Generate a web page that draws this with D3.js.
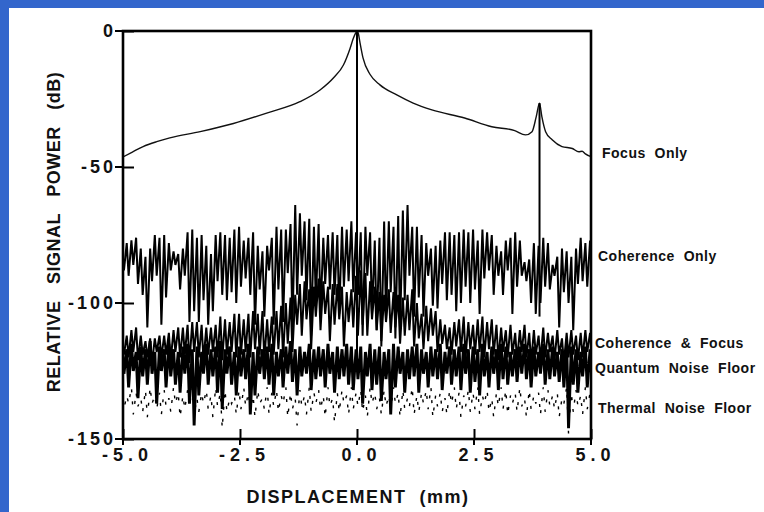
<!DOCTYPE html>
<html lang="en">
<head>
    <meta charset="UTF-8">
    <title>Relative Signal Power vs Displacement</title>
    <script src="https://d3js.org/d3.v7.min.js"></script>
    <style>
        body { margin: 0; background: #3366cc; }
        svg { display: block; }
        text {
            font-family: "Liberation Sans", Arial, Helvetica, sans-serif;
            font-weight: bold;
            fill: #111;
            white-space: pre;
        }
    </style>
</head>
<body>
<svg id="chart"></svg>
<script>
    // Axis ticks
    const xTicks = [-5, -2.5, 0, 2.5, 5];
    const yTicks = [0, -50, -100, -150];

    // Focus only (smooth curve)
    const focusX = [-5.0, -4.8, -4.57, -4.28, -4.0, -3.35, -2.64, -1.93, -1.22, -0.79, -0.5, -0.29, -0.15, -0.08, -0.03, 0,
                    0.03, 0.06, 0.13, 0.28, 0.49, 0.85, 1.2, 1.6, 2.3, 2.88, 3.37, 3.6, 3.74, 3.83, 3.9, 3.95, 4.03,
                    4.17, 4.38, 4.6, 4.74, 4.81, 4.88, 5.0];
    const focusY = [-46.3, -44.5, -42.5, -40.7, -39.3, -37, -34, -30.2, -26, -21.7, -17.2, -12.5, -6.5, -2.8, -0.8, 0,
                    -1, -3.9, -10, -16, -19.8, -23.5, -26.5, -29, -32, -35.2, -36.6, -38.2, -37, -31.5, -26.5, -31.5, -37,
                    -40, -42.5, -43.2, -44.4, -44.2, -45.2, -46.2];

    // Noisy traces: top / bottom of each 0.1 mm bin, from -5.0 to 5.0 mm (101 bins)
    const binStart = -5, binStep = 0.1;

    const coherenceHi = [
        -79, -78, -77, -76, -80, -83, -80, -75, -76, -75, -78, -81, -82, -80, -74, -73, -76, -75, -79, -82, -75, -74, -75, -76, -73, -72,
        -77, -76, -74, -79, -81, -79, -76, -72, -73, -73, -71, -64, -67, -70, -69, -72, -71, -76, -75, -74, -75, -72, -73, -70, -74,
        -74, -72, -74, -77, -76, -70, -70, -72, -68, -66, -64, -72, -72, -75, -78, -80, -79, -77, -74, -74, -75, -74, -73, -74, -73,
        -77, -73, -74, -75, -79, -81, -77, -76, -74, -77, -85, -84, -78, -79, -76, -78, -86, -83, -80, -81, -83, -80, -76, -78, -77];
    const coherenceLo = [
        -88, -90, -86, -93, -97, -109, -92, -90, -108, -98, -88, -86, -95, -90, -107, -103, -107, -99, -108, -103, -92, -97, -99, -96, -100, -94,
        -91, -97, -108, -95, -105, -88, -108, -95, -107, -89, -109, -97, -90, -99, -112, -100, -104, -93, -95, -97, -104, -94, -92, -96, -97,
        -112, -90, -104, -110, -116, -106, -96, -113, -110, -99, -90, -105, -98, -105, -90, -101, -102, -93, -99, -97, -103, -100, -94, -100, -95,
        -104, -91, -88, -97, -90, -97, -88, -104, -94, -90, -92, -100, -104, -100, -94, -95, -90, -109, -96, -100, -110, -93, -92, -94, -90];

    const cohFocusHi = [
        -113, -112, -110, -109, -112, -114, -113, -113, -112, -112, -111, -110, -109, -109, -108, -107, -107, -108, -109, -109, -108, -105, -106, -107, -104, -104,
        -106, -104, -103, -104, -103, -106, -105, -103, -101, -100, -98, -97, -93, -92, -95, -94, -91, -92, -94, -93, -93, -94, -96, -95, -90,
        -88, -89, -92, -94, -96, -97, -95, -96, -97, -98, -97, -95, -100, -104, -101, -102, -103, -106, -108, -109, -107, -106, -105, -107, -108,
        -106, -105, -107, -106, -108, -109, -110, -108, -111, -110, -108, -111, -110, -112, -109, -111, -112, -110, -113, -111, -110, -112, -111, -110, -111];
    const cohFocusLo = [
        -119, -120, -118, -121, -119, -120, -122, -118, -120, -119, -121, -118, -120, -119, -122, -118, -120, -121, -119, -118, -120, -121, -119, -118, -120, -119,
        -118, -120, -117, -119, -121, -118, -119, -117, -120, -115, -118, -108, -112, -106, -117, -105, -110, -104, -114, -108, -106, -116, -107, -109, -112,
        -108, -112, -106, -110, -114, -107, -111, -109, -115, -112, -110, -116, -113, -117, -114, -112, -118, -115, -117, -119, -116, -118, -120, -117, -119,
        -118, -120, -117, -119, -121, -118, -120, -119, -121, -118, -120, -122, -119, -121, -120, -118, -121, -119, -122, -120, -119, -121, -120, -118, -120];

    const quantumHi = [
        -116, -117, -115, -118, -116, -117, -114, -118, -116, -117, -115, -117, -118, -116, -115, -117, -116, -118, -115, -117, -116, -114, -117, -116, -118, -116,
        -117, -115, -118, -116, -117, -116, -115, -118, -117, -116, -114, -117, -116, -118, -115, -117, -116, -117, -115, -118, -116, -117, -115, -116, -117,
        -116, -118, -115, -117, -116, -118, -117, -115, -116, -118, -117, -116, -115, -117, -118, -116, -117, -115, -118, -116, -117, -116, -115, -117, -116,
        -117, -115, -118, -116, -117, -115, -116, -118, -117, -116, -115, -117, -116, -118, -115, -117, -116, -118, -117, -115, -116, -117, -118, -116, -117];
    const quantumLo = [
        -126, -131, -125, -135, -127, -130, -126, -137, -125, -131, -127, -130, -133, -126, -137, -145, -134, -126, -130, -127, -133, -139, -126, -130, -134, -127,
        -128, -141, -134, -126, -128, -130, -134, -127, -131, -126, -129, -134, -127, -126, -132, -128, -127, -131, -126, -133, -128, -127, -130, -132, -128,
        -137, -127, -132, -130, -136, -128, -141, -131, -126, -133, -128, -127, -133, -126, -131, -127, -128, -132, -126, -130, -127, -132, -126, -133, -129,
        -134, -127, -131, -126, -132, -128, -130, -127, -129, -126, -128, -131, -127, -126, -130, -128, -127, -129, -131, -146, -130, -133, -127, -131, -129];

    const thermalHi = [
        -132, -134, -131, -133, -135, -132, -131, -134, -133, -132, -135, -131, -133, -134, -132, -131, -135, -133, -132, -134, -131, -133, -132, -135, -134, -132,
        -131, -133, -134, -132, -135, -131, -133, -132, -134, -131, -133, -135, -132, -134, -131, -133, -132, -134, -131, -135, -133, -132, -134, -131, -133,
        -132, -134, -131, -133, -135, -132, -134, -131, -133, -132, -135, -131, -134, -133, -132, -131, -134, -133, -135, -132, -131, -133, -134, -132, -133,
        -131, -134, -132, -135, -133, -131, -132, -134, -133, -131, -135, -132, -134, -133, -131, -132, -134, -133, -135, -131, -133, -132, -134, -131, -133];
    const thermalLo = [
        -139, -137, -141, -138, -140, -142, -137, -139, -141, -138, -140, -137, -142, -139, -138, -141, -140, -137, -139, -142, -138, -146, -140, -137, -141, -139,
        -138, -140, -142, -137, -139, -141, -138, -140, -137, -142, -139, -145, -138, -141, -140, -137, -139, -142, -138, -144, -140, -137, -141, -139, -138,
        -140, -142, -137, -139, -141, -138, -140, -137, -142, -139, -138, -141, -140, -137, -139, -142, -138, -140, -141, -137, -139, -142, -138, -140, -139,
        -141, -137, -140, -142, -138, -139, -141, -137, -140, -138, -142, -139, -137, -141, -140, -138, -139, -142, -137, -148, -140, -138, -141, -139, -137];

    // Narrow coherence peaks drawn as vertical lines
    const spikeX = [0, 3.9];
    const spikeTop = [0, -26.5];
    const spikeBottom = [-122, -105];

    // Trace labels on the right
    const traceLabels = ["Focus  Only", "Coherence  Only", "Coherence  &  Focus", "Quantum  Noise  Floor", "Thermal  Noise  Floor"];
    const traceLabelDb = [-44.9, -82.7, -114.7, -123.9, -138.6];

    // Layout
    const width = 764;
    const height = 512;
    const plot = { left: 123, right: 591, top: 31, bottom: 439 };

    const svg = d3.select("#chart")
        .attr("width", width)
        .attr("height", height);

    svg.append("rect")
        .attr("width", width)
        .attr("height", height)
        .attr("fill", "#3366cc");

    svg.append("rect")
        .attr("x", 9)
        .attr("y", 8)
        .attr("width", width - 9)
        .attr("height", height - 8)
        .attr("fill", "#ffffff");

    const x = d3.scaleLinear().domain([-5, 5]).range([plot.left, plot.right]);
    const y = d3.scaleLinear().domain([-150, 0]).range([plot.bottom, plot.top]);

    svg.append("clipPath")
        .attr("id", "plot-clip")
        .append("rect")
        .attr("x", plot.left)
        .attr("y", plot.top)
        .attr("width", plot.right - plot.left)
        .attr("height", plot.bottom - plot.top);

    const traces = svg.append("g").attr("clip-path", "url(#plot-clip)");

    // Zig-zag between the top and bottom of every bin
    function zigzag(hi, lo) {
        const pts = [];
        hi.forEach((h, i) => {
            const xi = binStart + i * binStep;
            pts.push([xi - 0.02, h]);
            pts.push([xi + 0.02, lo[i]]);
        });
        return pts;
    }

    const line = d3.line()
        .x(d => x(d[0]))
        .y(d => y(d[1]));

    traces.append("path")
        .attr("d", line(zigzag(thermalHi, thermalLo)))
        .attr("fill", "none")
        .attr("stroke", "#000")
        .attr("stroke-width", 1.4)
        .attr("stroke-dasharray", "3,9");

    traces.append("path")
        .attr("d", line(zigzag(quantumHi, quantumLo)))
        .attr("fill", "none")
        .attr("stroke", "#000")
        .attr("stroke-width", 2.9);

    traces.append("path")
        .attr("d", line(zigzag(cohFocusHi, cohFocusLo)))
        .attr("fill", "none")
        .attr("stroke", "#000")
        .attr("stroke-width", 2);

    traces.append("path")
        .attr("d", line(zigzag(coherenceHi, coherenceLo)))
        .attr("fill", "none")
        .attr("stroke", "#000")
        .attr("stroke-width", 2);

    traces.append("path")
        .datum(focusX.map((v, i) => [v, focusY[i]]))
        .attr("d", d3.line().x(d => x(d[0])).y(d => y(d[1])).curve(d3.curveMonotoneX))
        .attr("fill", "none")
        .attr("stroke", "#111")
        .attr("stroke-width", 1.4);

    traces.selectAll(".spike")
        .data(spikeX)
        .enter()
        .append("line")
        .attr("class", "spike")
        .attr("x1", d => x(d))
        .attr("x2", d => x(d))
        .attr("y1", (d, i) => y(spikeTop[i]))
        .attr("y2", (d, i) => y(spikeBottom[i]))
        .attr("stroke", "#000")
        .attr("stroke-width", 2);

    // Frame
    svg.append("rect")
        .attr("x", x(-5))
        .attr("y", y(0))
        .attr("width", x(5) - x(-5))
        .attr("height", y(-150) - y(0))
        .attr("fill", "none")
        .attr("stroke", "#000")
        .attr("stroke-width", 2.6);

    // Y axis
    const yLs = 3;
    const yAxisG = svg.append("g")
        .attr("transform", `translate(${plot.left},0)`)
        .call(d3.axisLeft(y)
            .tickValues(yTicks)
            .tickSizeInner(-11)
            .tickSizeOuter(0)
            .tickPadding(10)
            .tickFormat(d => String(d)));
    yAxisG.select(".domain").remove();
    yAxisG.selectAll(".tick line").attr("stroke", "#000").attr("stroke-width", 2);
    yAxisG.selectAll(".tick text")
        .attr("fill", "#111")
        .attr("dx", yLs)
        .style("font-size", "18px")
        .style("letter-spacing", yLs + "px")
        .style("font-family", null);

    svg.selectAll(".ystub")
        .data(yTicks)
        .enter()
        .append("line")
        .attr("x1", plot.left - 8)
        .attr("x2", plot.left)
        .attr("y1", d => y(d))
        .attr("y2", d => y(d))
        .attr("stroke", "#000")
        .attr("stroke-width", 2);

    // X axis
    const xLs = 5;
    const xAxisG = svg.append("g")
        .attr("transform", `translate(0,${plot.bottom})`)
        .call(d3.axisBottom(x)
            .tickValues(xTicks)
            .tickSizeInner(-10)
            .tickSizeOuter(0)
            .tickPadding(9)
            .tickFormat(d => d.toFixed(1)));
    xAxisG.select(".domain").remove();
    xAxisG.selectAll(".tick line").attr("stroke", "#000").attr("stroke-width", 2);
    xAxisG.selectAll(".tick text")
        .attr("fill", "#111")
        .attr("dx", xLs / 2 + 1.5)
        .style("font-size", "18px")
        .style("letter-spacing", xLs + "px")
        .style("font-family", null);

    svg.selectAll(".xstub")
        .data(xTicks)
        .enter()
        .append("line")
        .attr("x1", d => x(d))
        .attr("x2", d => x(d))
        .attr("y1", plot.bottom)
        .attr("y2", plot.bottom + 6)
        .attr("stroke", "#000")
        .attr("stroke-width", 2);

    // Axis titles
    svg.append("text")
        .attr("x", 358)
        .attr("y", 503)
        .attr("text-anchor", "middle")
        .style("font-size", "18px")
        .style("letter-spacing", "1.5px")
        .text("DISPLACEMENT  (mm)");

    svg.append("text")
        .attr("transform", "translate(60,232) rotate(-90)")
        .attr("text-anchor", "middle")
        .style("font-size", "18px")
        .style("letter-spacing", "0.5px")
        .text("RELATIVE   SIGNAL   POWER   (dB)");

    // Trace labels
    svg.selectAll(".trace-label")
        .data(traceLabels)
        .enter()
        .append("text")
        .attr("class", "trace-label")
        .attr("x", (d, i) => plot.right + (i === 0 ? 11 : i === 1 || i === 4 ? 7 : 4))
        .attr("y", (d, i) => y(traceLabelDb[i]))
        .attr("dy", "0.36em")
        .style("font-size", "14px")
        .style("letter-spacing", "0.5px")
        .text(d => d);
</script>
</body>
</html>
